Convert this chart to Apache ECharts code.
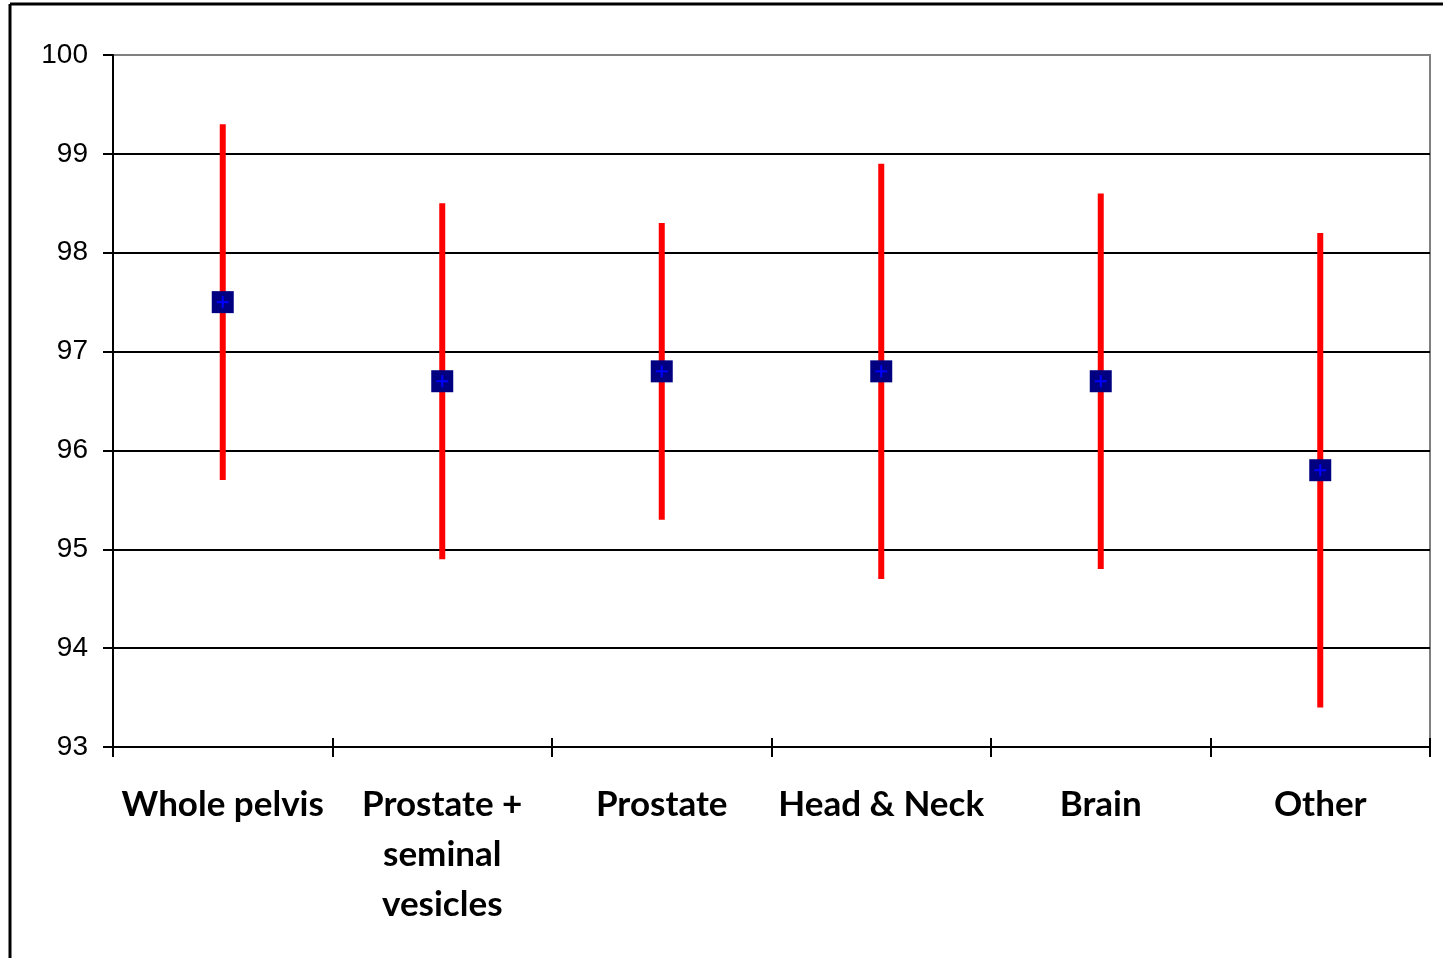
<!DOCTYPE html>
<html>
<head>
<meta charset="utf-8">
<style>
html,body{margin:0;padding:0;background:#fff;}
#chart{width:1443px;height:958px;}
</style>
<script src="https://cdn.jsdelivr.net/npm/echarts@6/dist/echarts.min.js"></script>
</head>
<body>
<div id="chart"></div>
<script>
var categories = ['Whole pelvis', 'Prostate +\nseminal\nvesicles', 'Prostate', 'Head & Neck', 'Brain', 'Other'];
var means = [97.5, 96.7, 96.8, 96.8, 96.7, 95.8];
var upper = [99.3, 98.5, 98.3, 98.9, 98.6, 98.2];
var lower = [95.7, 94.9, 95.3, 94.7, 94.8, 93.4];
var yTicks = [93, 94, 95, 96, 97, 98, 99, 100];

var data = categories.map(function (c, i) { return [i, means[i], lower[i], upper[i]]; });

var chart = echarts.init(document.getElementById('chart'), null, {renderer: 'canvas'});
chart.setOption({
  animation: false,
  backgroundColor: '#fff',
  grid: {left: 113, right: 13, top: 55, bottom: 211, show: true, borderColor: '#808080', borderWidth: 2, backgroundColor: 'transparent'},
  graphic: [
    {type: 'line', shape: {x1: 10, y1: 4, x2: 1443, y2: 4}, style: {stroke: '#000', lineWidth: 3}, z: 100},
    {type: 'line', shape: {x1: 10, y1: 4, x2: 10, y2: 958}, style: {stroke: '#000', lineWidth: 3}, z: 100}
  ],
  xAxis: [{
    type: 'category',
    data: categories,
    boundaryGap: true,
    axisLine: {show: true, lineStyle: {color: '#000', width: 2}},
    axisTick: {show: true, length: 10, lineStyle: {color: '#000', width: 2}},
    axisLabel: {color: '#000', fontFamily: 'Lato', fontWeight: 'bold', fontSize: 35, lineHeight: 50, margin: 33, interval: 0},
    splitLine: {show: false}
  }, {
    type: 'category',
    data: categories,
    position: 'bottom',
    boundaryGap: true,
    axisLine: {show: false},
    axisTick: {show: true, inside: true, length: 9, lineStyle: {color: '#000', width: 2}},
    axisLabel: {show: false},
    splitLine: {show: false}
  }],
  yAxis: {
    type: 'value',
    min: 93,
    max: 100,
    interval: 1,
    axisLine: {show: true, lineStyle: {color: '#000', width: 2}},
    axisTick: {show: true, length: 10, lineStyle: {color: '#000', width: 2}},
    axisLabel: {color: '#000', fontFamily: 'Liberation Sans', fontSize: 28, margin: 25, padding: [4, 0, 0, 0],
      formatter: function (v) { return yTicks.indexOf(v) >= 0 ? String(v) : ''; }},
    splitLine: {show: true, lineStyle: {color: ['#000', '#000', '#000', '#000', '#000', '#000', '#000', '#808080'], width: 2}}
  },
  series: [{
    type: 'custom',
    xAxisIndex: 0,
    data: data,
    z: 10,
    renderItem: function (params, api) {
      var x = api.value(0);
      var m = api.coord([x, api.value(1)]);
      var lo = api.coord([x, api.value(2)]);
      var hi = api.coord([x, api.value(3)]);
      var s = 22, p = 6;
      return {
        type: 'group',
        children: [
          {type: 'rect', shape: {x: m[0] - 3, y: hi[1], width: 6, height: lo[1] - hi[1]}, style: {fill: '#ff0000'}},
          {type: 'rect', shape: {x: m[0] - s / 2, y: m[1] - s / 2, width: s, height: s}, style: {fill: '#000080'}},
          {type: 'line', shape: {x1: m[0] - p, y1: m[1], x2: m[0] + p, y2: m[1]}, style: {stroke: '#0000ff', lineWidth: 2}},
          {type: 'line', shape: {x1: m[0], y1: m[1] - p, x2: m[0], y2: m[1] + p}, style: {stroke: '#0000ff', lineWidth: 2}}
        ]
      };
    }
  }]
});
</script>
</body>
</html>
